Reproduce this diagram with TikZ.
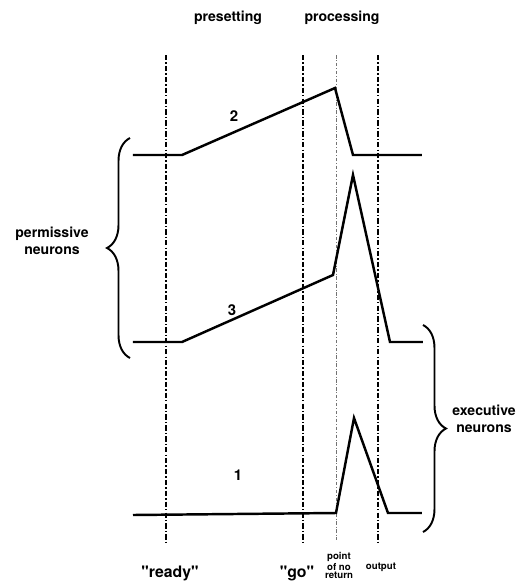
\documentclass[tikz,border=0pt]{standalone}
\usepackage{fontspec}
\setmainfont{TeX Gyre Heros}
\usetikzlibrary{decorations.pathreplacing}

\begin{document}
\begin{tikzpicture}[x=0.02cm,y=-0.02cm,
    lbl/.style={font=\bfseries\fontsize{8}{9.5}\selectfont,align=center},
    num/.style={font=\bfseries\fontsize{8.5}{9}\selectfont},
    quot/.style={font=\bfseries\fontsize{9}{10}\selectfont},
    tiny/.style={font=\bfseries\fontsize{5.5}{4.6}\selectfont,align=center,inner sep=0pt},
    curve/.style={line width=1.4pt,line join=miter},
    dashdot/.style={line width=0.9pt,dash pattern=on 3pt off 1.2pt on 0.8pt off 1.2pt},
    faint/.style={line width=0.4pt,black!55,dash pattern=on 2pt off 1pt on 0.5pt off 1pt},
    brc/.style={line width=1.1pt,decorate,decoration={brace,amplitude=0.46cm}}]
    \useasboundingbox (0,0) rectangle (531,583);

    \node[lbl] (pre) at (228,18) {presetting};
    \node[lbl] (proc) at (342,18) {processing};

    \coordinate (R1) at (166,55);
    \coordinate (R2) at (166,545);
    \coordinate (G1) at (303,55);
    \coordinate (G2) at (303,545);
    \coordinate (P1) at (336,55);
    \coordinate (P2) at (336,540);
    \coordinate (O1) at (378,55);
    \coordinate (O2) at (378,545);
    \draw[dashdot] (R1) -- (R2);
    \draw[dashdot] (G1) -- (G2);
    \draw[faint] (P1) -- (P2);
    \draw[dashdot] (O1) -- (O2);

    \coordinate (A0) at (133,155);
    \coordinate (A1) at (182,155);
    \coordinate (A2) at (335,88);
    \coordinate (A3) at (353,155);
    \coordinate (A4) at (422,155);
    \draw[curve] (A0) -- (A1) -- (A2) -- (A3) -- (A4);
    \node[num] (L2) at (234,116) {2};

    \coordinate (B0) at (133,342);
    \coordinate (B1) at (182,342);
    \coordinate (B2) at (333,275);
    \coordinate (B3) at (353,175);
    \coordinate (B4) at (390,342);
    \coordinate (B5) at (423,342);
    \draw[curve] (B0) -- (B1) -- (B2) -- (B3) -- (B4) -- (B5);
    \node[num] (L3) at (232,310) {3};

    \coordinate (C0) at (133,515);
    \coordinate (C1) at (336,513);
    \coordinate (C2) at (354,418);
    \coordinate (C3) at (388,513);
    \coordinate (C4) at (422,513);
    \draw[curve] (C0) -- (C1) -- (C2) -- (C3) -- (C4);
    \node[num] (L1) at (238,475) {1};

    \coordinate (PB1) at (130,358);
    \coordinate (PB2) at (130,138);
    \draw[brc] (PB1) -- (PB2);
    \node[lbl] (perm) at (52,241) {permissive\\neurons};

    \coordinate (EB1) at (423,325);
    \coordinate (EB2) at (423,532);
    \draw[brc] (EB1) -- (EB2);
    \node[lbl] (exec) at (484,419) {executive\\neurons};

    \node[quot] (ready) at (170,573) {\textquotedbl ready\textquotedbl};
    \node[quot] (go) at (297,573) {\textquotedbl go\textquotedbl};
    \node[tiny,anchor=north] (pnr) at (339,552) {point\\of no\\return};
    \node[tiny] (out) at (381,567) {output};
\end{tikzpicture}
\end{document}
